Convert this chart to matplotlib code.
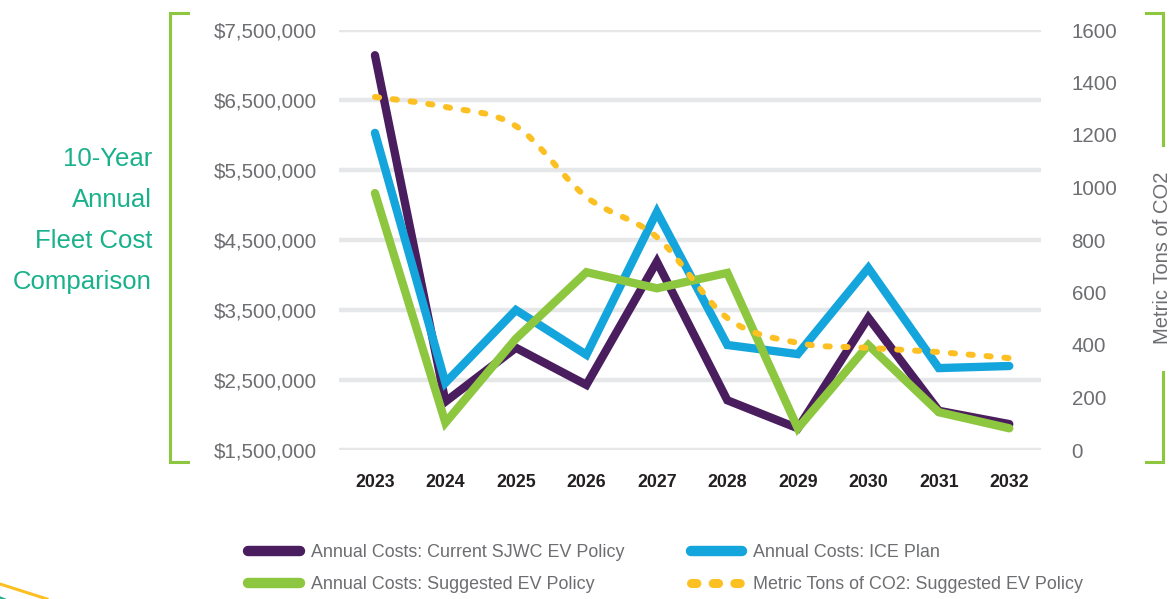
import matplotlib
matplotlib.use("Agg")
import matplotlib.pyplot as plt
from matplotlib.lines import Line2D
from matplotlib.path import Path
from matplotlib.patches import PathPatch
import numpy as np

plt.rcParams['font.family'] = ['Liberation Sans', 'DejaVu Sans']

# ---------------- data ----------------
years = [2023, 2024, 2025, 2026, 2027, 2028, 2029, 2030, 2031, 2032]
current_sjwc = [7140000, 2190000, 2960000, 2430000, 4190000, 2210000, 1810000, 3390000, 2060000, 1870000]
ice_plan = [6030000, 2460000, 3500000, 2860000, 4900000, 3000000, 2870000, 4100000, 2670000, 2700000]
suggested_ev = [5170000, 1890000, 3090000, 4040000, 3810000, 4030000, 1810000, 3000000, 2040000, 1810000]
co2_tons = [1345, 1307, 1234, 964, 811, 503, 408, 389, 373, 350]

left_ticks = [1500000, 2500000, 3500000, 4500000, 5500000, 6500000, 7500000]
right_ticks = [0, 200, 400, 600, 800, 1000, 1200, 1400, 1600]

labels = ["Annual Costs: Current SJWC EV Policy",
          "Annual Costs: Suggested EV Policy",
          "Annual Costs: ICE Plan",
          "Metric Tons of CO2: Suggested EV Policy"]
title_lines = ["10-Year", "Annual", "Fleet Cost", "Comparison"]
right_label = "Metric Tons of CO2"

# ---------------- style ----------------
PURPLE = "#4a1e5e"
BLUE = "#14a5dc"
GREEN = "#8dc63f"
YELLOW = "#fdc023"
TEAL = "#19b18b"
GRID = "#e6e7e8"
GRAY = "#6d6e71"
BLACK = "#231f20"

W, H = 1176, 599
fig = plt.figure(figsize=(W / 100, H / 100), dpi=100)

def fx(px):
    return px / W

def fy(py):
    return 1 - py / H

ax = fig.add_axes([fx(339), fy(450), fx(1041) - fx(339), fy(30) - fy(450)])
ax2 = ax.twinx()

ax.set_ylim(1500000, 7500000)
ax.set_xlim(2022.49, 2032.45)
ax2.set_ylim(0, 1600)

ax.set_yticks(left_ticks)
ax.set_yticklabels(["${:,.0f}".format(v) for v in left_ticks])
ax2.set_yticks(right_ticks)
ax2.set_yticklabels([str(v) for v in right_ticks])
ax.set_xticks(years)
ax.set_xticklabels([str(y) for y in years])

for a in (ax, ax2):
    for s in a.spines.values():
        s.set_visible(False)
    a.tick_params(length=0)

ax.tick_params(axis='y', labelsize=14.8, labelcolor=GRAY, pad=16)
ax2.tick_params(axis='y', labelsize=14.8, labelcolor=GRAY, pad=22)
ax.tick_params(axis='x', labelsize=12.8, labelcolor=BLACK, pad=17)
for t in ax.get_xticklabels():
    t.set_fontweight('bold')

ax.grid(axis='y', color=GRID, linewidth=3.2, solid_capstyle='round')
ax.grid(axis='x', visible=False)
ax.set_axisbelow(True)

lw = 6.0
common = dict(linewidth=lw, solid_capstyle='round', solid_joinstyle='miter', clip_on=False)
l1, = ax.plot(years, current_sjwc, color=PURPLE, zorder=3, **common)
l2, = ax.plot(years, ice_plan, color=BLUE, zorder=4, **common)
l3, = ax.plot(years, suggested_ev, color=GREEN, zorder=5, **common)

# smooth CO2 curve (Catmull-Rom -> cubic Bezier through the data points)
ax2.set_zorder(ax.get_zorder() + 1)
ax2.patch.set_visible(False)
xs = np.array(years, dtype=float)
ys = np.array(co2_tons, dtype=float)
verts = [(xs[0], ys[0])]
codes = [Path.MOVETO]
n = len(xs)
for i in range(n - 1):
    p0 = (xs[max(i - 1, 0)], ys[max(i - 1, 0)])
    p1 = (xs[i], ys[i])
    p2 = (xs[i + 1], ys[i + 1])
    p3 = (xs[min(i + 2, n - 1)], ys[min(i + 2, n - 1)])
    c1 = (p1[0] + (p2[0] - p0[0]) / 6, p1[1] + (p2[1] - p0[1]) / 6)
    c2 = (p2[0] - (p3[0] - p1[0]) / 6, p2[1] - (p3[1] - p1[1]) / 6)
    verts += [c1, c2, p2]
    codes += [Path.CURVE4] * 3
dash = (0, (0.7, 2.3))
co2_patch = PathPatch(Path(verts, codes), fill=False, edgecolor=YELLOW, linewidth=4.3,
                      linestyle=dash, capstyle='round', clip_on=False)
ax2.add_patch(co2_patch)

# legend
h1 = Line2D([], [], color=PURPLE, linewidth=7.5, solid_capstyle='round')
h2 = Line2D([], [], color=GREEN, linewidth=7.5, solid_capstyle='round')
h3 = Line2D([], [], color=BLUE, linewidth=7.5, solid_capstyle='round')
h4 = Line2D([], [], color=YELLOW, linewidth=6.5, linestyle=(0, (0.6, 1.8)),
            dash_capstyle='round')
leg = fig.legend([h1, h2, h3, h4], labels, loc='upper left',
                 bbox_to_anchor=(fx(248), fy(544)), ncol=2, frameon=False,
                 borderpad=0, borderaxespad=0, handlelength=2.9,
                 handletextpad=0.6, columnspacing=3.7, labelspacing=0.84,
                 prop={'size': 12.9})
for t in leg.get_texts():
    t.set_color(GRAY)

# title
for line, base in zip(title_lines, [166, 207, 248, 289]):
    fig.text(fx(152), fy(base), line, ha='right', va='baseline', color=TEAL, fontsize=18.5)

# brackets
bl = 2.2
fig.add_artist(Line2D([fx(188), fx(170), fx(170), fx(188)], [fy(13), fy(13), fy(462), fy(462)],
                      color=GREEN, linewidth=bl, solid_joinstyle='miter'))
fig.add_artist(Line2D([fx(1146), fx(1163), fx(1163)], [fy(13), fy(13), fy(145)],
                      color=GREEN, linewidth=bl, solid_joinstyle='miter'))
fig.add_artist(Line2D([fx(1163), fx(1163), fx(1146)], [fy(372), fy(462), fy(462)],
                      color=GREEN, linewidth=bl, solid_joinstyle='miter'))
fig.text(fx(1163), fy(258), right_label, rotation=90, ha='center', va='center',
         color=GRAY, fontsize=14.5)

# decorative swoosh bottom-left
fig.add_artist(Line2D([fx(0), fx(47)], [fy(584), fy(599)], color=YELLOW, linewidth=2.2))
fig.add_artist(Line2D([fx(0), fx(5)], [fy(597.5), fy(599.5)], color=TEAL, linewidth=1.6))

fig.savefig("out.png", dpi=100)
